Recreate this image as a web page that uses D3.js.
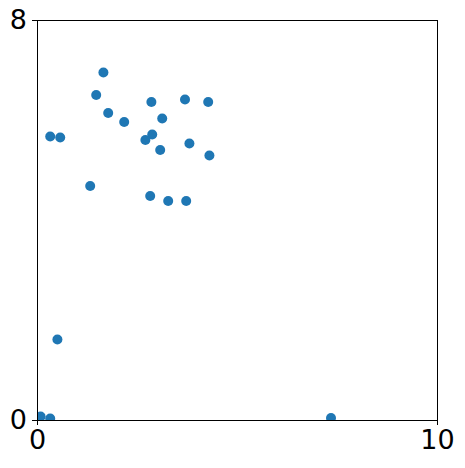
<html>
  <head>
    <meta charset="utf-8">
    <script src="https://d3js.org/d3.v7.min.js"></script>
    <style>
      body { margin: 0; background: #fff; }
      text { font-family: 'DejaVu Sans'; }
    </style>
  </head>
  <body>
    <script>
      // point values
      var xs = [1.66, 1.48, 2.86, 3.70, 4.28, 1.78, 2.18, 3.13, 0.33, 0.58, 2.88, 2.71,
                3.08, 3.81, 4.31, 1.33, 2.83, 3.28, 3.73, 0.51, 0.09, 0.33, 7.35];
      var ys = [6.95, 6.50, 6.36, 6.41, 6.36, 6.14, 5.96, 6.03, 5.67, 5.65, 5.71, 5.60,
                5.40, 5.53, 5.29, 4.68, 4.48, 4.38, 4.38, 1.61, 0.07, 0.03, 0.04];
      var xTicks = [0, 10];
      var yTicks = [0, 8];

      var width = 465, height = 468;
      var plotL = 37, plotT = 20, plotR = 437, plotB = 420;

      var svg = d3.select("body").append("svg")
        .attr("width", width)
        .attr("height", height);

      var x = d3.scaleLinear().domain([0, 10]).range([plotL, plotR]);
      var y = d3.scaleLinear().domain([0, 8]).range([plotB, plotT]);

      svg.append("defs").append("clipPath").attr("id", "clip")
        .append("rect")
        .attr("x", plotL).attr("y", plotT)
        .attr("width", plotR - plotL).attr("height", plotB - plotT);

      svg.append("g")
        .attr("clip-path", "url(#clip)")
        .selectAll("circle")
        .data(xs)
        .enter()
        .append("circle")
        .attr("cx", function(d) { return x(d); })
        .attr("cy", function(d, i) { return y(ys[i]); })
        .attr("r", 5)
        .attr("fill", "#1f77b4");

      var xAxis = svg.append("g")
        .attr("transform", "translate(0," + plotB + ")")
        .call(d3.axisBottom(x).tickValues(xTicks).tickSize(5).tickPadding(5).tickFormat(d3.format("d")));
      var yAxis = svg.append("g")
        .attr("transform", "translate(" + plotL + ",0)")
        .call(d3.axisLeft(y).tickValues(yTicks).tickSize(5).tickPadding(5).tickFormat(d3.format("d")));

      [xAxis, yAxis].forEach(function(g) {
        g.select(".domain").remove();
        g.selectAll(".tick line").attr("stroke", "#000").attr("stroke-width", 1);
        g.selectAll(".tick text")
          .attr("fill", "#000")
          .style("font-size", "27px")
          .style("font-family", "'DejaVu Sans'");
      });

      // frame
      svg.append("rect")
        .attr("x", plotL + 0.5).attr("y", plotT + 0.5)
        .attr("width", plotR - plotL).attr("height", plotB - plotT)
        .attr("fill", "none")
        .attr("stroke", "#000")
        .attr("stroke-width", 1);
    </script>
  </body>
</html>
